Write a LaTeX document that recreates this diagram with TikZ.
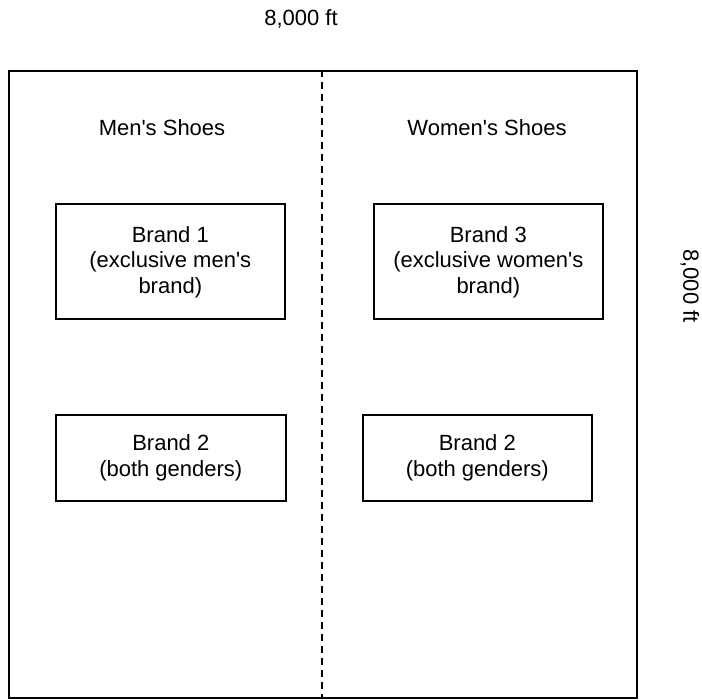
\documentclass[tikz,border=0pt]{standalone}
\usepackage{fontspec}
\setmainfont{Liberation Sans}
\newcommand{\sq}{\textquotesingle}
\begin{document}
\begin{tikzpicture}[x=1pt,y=-1pt,
  every node/.style={font=\fontsize{22}{25.5}\selectfont, inner sep=0pt},
  brandbox/.style={draw, line width=1.6pt, align=center, anchor=north west},
  lbl/.style={align=center}]
\useasboundingbox (0,0) rectangle (702,700);
\node[draw, line width=1.6pt, minimum width=628pt, minimum height=627pt, anchor=north west] (outer) at (8,70) {};
\coordinate (dtop) at (322,70);
\coordinate (dbot) at (322,697);
\draw[line width=1.4pt, dash pattern=on 7pt off 5pt] (dtop) -- (dbot);
\node[lbl] (topl) at (301,19) {8,000 ft};
\node[lbl, rotate=-90] (sidel) at (690,286) {8,000 ft};
\node[lbl] (men) at (162,128) {Men\sq s Shoes};
\node[lbl] (women) at (487,128) {Women\sq s Shoes};
\node[brandbox, minimum width=229pt, minimum height=115pt] (b1) at (55,203) {};
\node[lbl] (b1t) at ([yshift=-1pt]b1.center) {Brand 1\\(exclusive men\sq s\\brand)};
\node[brandbox, minimum width=229pt, minimum height=115pt] (b3) at (373,203) {};
\node[lbl] (b3t) at ([yshift=-1pt]b3.center) {Brand 3\\(exclusive women\sq s\\brand)};
\node[brandbox, minimum width=230pt, minimum height=86pt] (b2l) at (55,414) {};
\node[lbl] (b2lt) at (b2l.center) {Brand 2\\(both genders)};
\node[brandbox, minimum width=229pt, minimum height=86pt] (b2r) at (362,414) {};
\node[lbl] (b2rt) at (b2r.center) {Brand 2\\(both genders)};
\end{tikzpicture}
\end{document}
